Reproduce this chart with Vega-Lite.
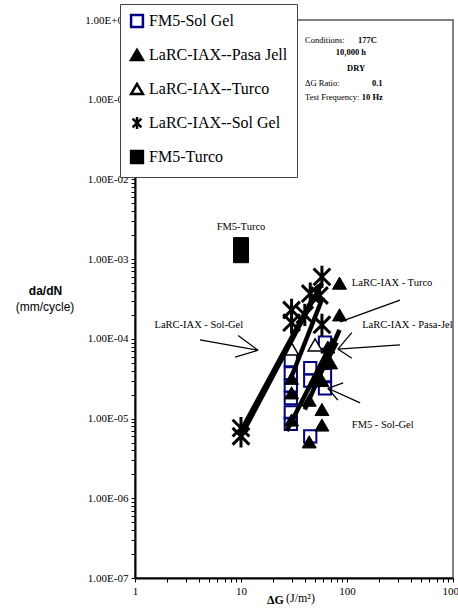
{
  "$schema": "https://vega.github.io/schema/vega-lite/v6.json",
  "width": 318,
  "height": 558,
  "autosize": "none",
  "padding": {"left": 135, "top": 20, "right": 5, "bottom": 32},
  "background": "white",
  "config": {
    "view": {"stroke": "#808080", "strokeWidth": 2},
    "font": "Liberation Serif"
  },
  "datasets": {
    "points": [
      {"series": "FM5-Sol Gel", "x": 29.5, "y": 5.4e-5},
      {"series": "FM5-Sol Gel", "x": 29.5, "y": 3.7e-5},
      {"series": "FM5-Sol Gel", "x": 29.5, "y": 2.6e-5},
      {"series": "FM5-Sol Gel", "x": 29.5, "y": 1.8e-5},
      {"series": "FM5-Sol Gel", "x": 29.5, "y": 1.2e-5},
      {"series": "FM5-Sol Gel", "x": 29.5, "y": 8.6e-6},
      {"series": "FM5-Sol Gel", "x": 45, "y": 4.3e-5},
      {"series": "FM5-Sol Gel", "x": 45, "y": 3.0e-5},
      {"series": "FM5-Sol Gel", "x": 45, "y": 6.0e-6},
      {"series": "FM5-Sol Gel", "x": 62, "y": 9.0e-5},
      {"series": "FM5-Sol Gel", "x": 62, "y": 3.5e-5},
      {"series": "FM5-Sol Gel", "x": 62, "y": 2.4e-5},
      {"series": "LaRC-IAX--Pasa Jell", "x": 30, "y": 3.2e-5},
      {"series": "LaRC-IAX--Pasa Jell", "x": 30, "y": 2.1e-5},
      {"series": "LaRC-IAX--Pasa Jell", "x": 30, "y": 9.6e-6},
      {"series": "LaRC-IAX--Pasa Jell", "x": 44, "y": 1.7e-5},
      {"series": "LaRC-IAX--Pasa Jell", "x": 58, "y": 1.3e-5},
      {"series": "LaRC-IAX--Pasa Jell", "x": 58, "y": 8.3e-6},
      {"series": "LaRC-IAX--Pasa Jell", "x": 44, "y": 5.1e-6},
      {"series": "LaRC-IAX--Pasa Jell", "x": 58, "y": 3.0e-5},
      {"series": "LaRC-IAX--Pasa Jell", "x": 66, "y": 7.9e-5},
      {"series": "LaRC-IAX--Pasa Jell", "x": 70, "y": 5.0e-5},
      {"series": "LaRC-IAX--Pasa Jell", "x": 85, "y": 5.0e-4},
      {"series": "LaRC-IAX--Pasa Jell", "x": 85, "y": 2.0e-4},
      {"series": "LaRC-IAX--Turco", "x": 30, "y": 7.5e-5},
      {"series": "LaRC-IAX--Turco", "x": 50, "y": 8.4e-5},
      {"series": "LaRC-IAX--Sol Gel", "x": 10, "y": 7.6e-6},
      {"series": "LaRC-IAX--Sol Gel", "x": 10, "y": 6.0e-6},
      {"series": "LaRC-IAX--Sol Gel", "x": 58, "y": 6.0e-4},
      {"series": "LaRC-IAX--Sol Gel", "x": 45, "y": 3.7e-4},
      {"series": "LaRC-IAX--Sol Gel", "x": 55, "y": 3.5e-4},
      {"series": "LaRC-IAX--Sol Gel", "x": 30, "y": 2.3e-4},
      {"series": "LaRC-IAX--Sol Gel", "x": 30, "y": 1.6e-4},
      {"series": "LaRC-IAX--Sol Gel", "x": 58, "y": 1.5e-4},
      {"series": "LaRC-IAX--Sol Gel", "x": 40, "y": 2.0e-4},
      {"series": "FM5-Turco", "x": 10, "y": 1.5e-3},
      {"series": "FM5-Turco", "x": 10, "y": 1.12e-3}
    ],
    "fits": [
      {"x": 10, "y": 6.0e-6, "x2": 58, "y2": 5.0e-4},
      {"x": 10, "y": 7.0e-6, "x2": 48, "y2": 3.3e-4},
      {"x": 29, "y": 3.0e-5, "x2": 59, "y2": 3.3e-4},
      {"x": 27, "y": 7.0e-6, "x2": 75, "y2": 1.0e-4},
      {"x": 40, "y": 1.3e-5, "x2": 85, "y2": 1.3e-4},
      {"x": 48, "y": 2.5e-5, "x2": 80, "y2": 9.0e-5}
    ],
    "arrows": [
      {"x": 4.1, "y": 9.7e-5, "x2": 14.5, "y2": 7.2e-5},
      {"x": 9.4, "y": 1.1e-4, "x2": 14.5, "y2": 7.2e-5},
      {"x": 8.8, "y": 5.9e-5, "x2": 14.5, "y2": 7.2e-5},
      {"x": 316, "y": 3.07e-4, "x2": 86, "y2": 1.63e-4},
      {"x": 316, "y": 8.4e-5, "x2": 82, "y2": 7.45e-5},
      {"x": 111, "y": 1.2e-4, "x2": 82, "y2": 7.45e-5},
      {"x": 111, "y": 5.7e-5, "x2": 82, "y2": 7.45e-5},
      {"x": 133, "y": 1.57e-5, "x2": 66, "y2": 2.4e-5},
      {"x": 92, "y": 2.8e-5, "x2": 66, "y2": 2.4e-5},
      {"x": 82, "y": 1.7e-5, "x2": 66, "y2": 2.4e-5}
    ],
    "notesCenter": [
      {"x": 10, "y": 2.5e-3, "text": "FM5-Turco"},
      {"x": 4.0, "y": 1.5e-4, "text": "LaRC-IAX - Sol-Gel"}
    ],
    "notesLeft": [
      {"x": 111, "y": 5.0e-4, "text": "LaRC-IAX - Turco"},
      {"x": 139, "y": 1.49e-4, "text": "LaRC-IAX - Pasa-Jel"},
      {"x": 111, "y": 8.3e-6, "text": "FM5 - Sol-Gel"}
    ],
    "condLabels": [
      {"x": 40.2, "y": 0.561, "text": "Conditions:"},
      {"x": 40.2, "y": 0.162, "text": "ΔG Ratio:"},
      {"x": 40.2, "y": 0.108, "text": "Test Frequency:"}
    ],
    "condValuesLeft": [
      {"x": 127, "y": 0.561, "text": "177C"},
      {"x": 172, "y": 0.162, "text": "0.1"},
      {"x": 138, "y": 0.108, "text": "10 Hz"}
    ],
    "condValuesCenter": [
      {"x": 109, "y": 0.397, "text": "10,000 h"},
      {"x": 122, "y": 0.25, "text": "DRY"}
    ],
    "yUnit": [{"x": 0.1416, "y": 2.5e-4, "text": "(mm/cycle)"}],
    "xUnit": [{"x": 26.6, "y": 5.6e-8, "text": "(J/m²)"}]
  },
  "encoding": {
    "x": {
      "field": "x",
      "type": "quantitative",
      "scale": {"type": "log", "domain": [1, 1000], "nice": false},
      "axis": {
        "title": "ΔG",
        "titleFont": "Liberation Serif",
        "titleFontWeight": "bold",
        "titleFontSize": 12,
        "titleX": 140,
        "titleY": 21,
        "titleAlign": "center",
        "titleBaseline": "middle",
        "values": [1, 2, 3, 4, 5, 6, 7, 8, 9, 10, 20, 30, 40, 50, 60, 70, 80, 90, 100, 200, 300, 400, 500, 600, 700, 800, 900, 1000],
        "labelExpr": "indexof([1, 10, 100, 1000], datum.value) >= 0 ? format(datum.value, 'd') : ''",
        "labelFont": "Liberation Serif",
        "labelFontSize": 11,
        "labelColor": "black",
        "labelPadding": 3,
        "labelOverlap": false,
        "labelFlush": false,
        "tickColor": "black",
        "tickSize": 4,
        "domainColor": "black",
        "domainWidth": 2,
        "grid": false
      }
    },
    "y": {
      "field": "y",
      "type": "quantitative",
      "scale": {"type": "log", "domain": [1e-7, 1], "nice": false},
      "axis": {
        "title": "da/dN",
        "titleFont": "Liberation Sans",
        "titleFontWeight": "bold",
        "titleFontSize": 12,
        "titleAngle": 0,
        "titleX": -90,
        "titleY": 270,
        "titleAlign": "center",
        "titleBaseline": "middle",
        "values": [1e-7, 2e-7, 3e-7, 4e-7, 5e-7, 6e-7, 7e-7, 8e-7, 9e-7,
                   1e-6, 2e-6, 3e-6, 4e-6, 5e-6, 6e-6, 7e-6, 8e-6, 9e-6,
                   1e-5, 2e-5, 3e-5, 4e-5, 5e-5, 6e-5, 7e-5, 8e-5, 9e-5,
                   1e-4, 2e-4, 3e-4, 4e-4, 5e-4, 6e-4, 7e-4, 8e-4, 9e-4,
                   1e-3, 2e-3, 3e-3, 4e-3, 5e-3, 6e-3, 7e-3, 8e-3, 9e-3,
                   1e-2, 2e-2, 3e-2, 4e-2, 5e-2, 6e-2, 7e-2, 8e-2, 9e-2,
                   1e-1, 2e-1, 3e-1, 4e-1, 5e-1, 6e-1, 7e-1, 8e-1, 9e-1, 1],
        "labelExpr": "indexof([1e-7, 1e-6, 1e-5, 1e-4, 1e-3, 1e-2, 1e-1, 1], datum.value) >= 0 ? '1.00E' + (datum.value < 1 ? '-' : '+') + '0' + abs(round(log(datum.value) / LN10)) : ''",
        "labelFont": "Liberation Serif",
        "labelFontSize": 11,
        "labelColor": "black",
        "labelPadding": 3,
        "labelOverlap": false,
        "labelFlush": false,
        "tickColor": "black",
        "tickSize": 4,
        "domainColor": "black",
        "domainWidth": 2,
        "grid": false
      }
    },
    "shape": {
      "field": "series",
      "type": "nominal",
      "title": null,
      "scale": {
        "domain": ["FM5-Sol Gel", "LaRC-IAX--Pasa Jell", "LaRC-IAX--Turco", "LaRC-IAX--Sol Gel", "FM5-Turco"],
        "range": ["square", "triangle-up", "triangle-up", "M-0.75,-0.75L0.75,0.75M0.75,-0.75L-0.75,0.75M0,-1L0,1", "square"]
      },
      "legend": {
        "orient": "none", "legendX": -15, "legendY": -16, "fillColor": "white", "strokeColor": "#444444",
        "padding": 9, "rowPadding": 12, "labelFont": "Liberation Serif", "labelFontSize": 16, "labelColor": "black",
        "labelOffset": 4, "labelLimit": 300, "symbolSize": 140, "symbolStrokeWidth": 2.5, "zindex": 1
      }
    },
    "stroke": {
      "field": "series",
      "type": "nominal",
      "title": null,
      "scale": {
        "domain": ["FM5-Sol Gel", "LaRC-IAX--Pasa Jell", "LaRC-IAX--Turco", "LaRC-IAX--Sol Gel", "FM5-Turco"],
        "range": ["#000080", "black", "black", "black", "black"]
      },
      "legend": {
        "orient": "none", "legendX": -15, "legendY": -16, "fillColor": "white", "strokeColor": "#444444",
        "padding": 9, "rowPadding": 12, "labelFont": "Liberation Serif", "labelFontSize": 16, "labelColor": "black",
        "labelOffset": 4, "labelLimit": 300, "symbolSize": 140, "symbolStrokeWidth": 2.5, "zindex": 1
      }
    },
    "fill": {
      "field": "series",
      "type": "nominal",
      "title": null,
      "scale": {
        "domain": ["FM5-Sol Gel", "LaRC-IAX--Pasa Jell", "LaRC-IAX--Turco", "LaRC-IAX--Sol Gel", "FM5-Turco"],
        "range": ["transparent", "black", "white", "transparent", "black"]
      },
      "legend": {
        "orient": "none", "legendX": -15, "legendY": -16, "fillColor": "white", "strokeColor": "#444444",
        "padding": 9, "rowPadding": 12, "labelFont": "Liberation Serif", "labelFontSize": 16, "labelColor": "black",
        "labelOffset": 4, "labelLimit": 300, "symbolSize": 140, "symbolStrokeWidth": 2.5, "zindex": 1
      }
    }
  },
  "layer": [
    {
      "data": {"name": "points"},
      "transform": [{"filter": "datum.series === 'FM5-Sol Gel'"}],
      "mark": {"type": "point", "opacity": 1, "size": 150, "strokeWidth": 2}
    },
    {
      "data": {"name": "points"},
      "transform": [{"filter": "datum.series === 'LaRC-IAX--Pasa Jell'"}],
      "mark": {"type": "point", "opacity": 1, "size": 196, "strokeWidth": 1}
    },
    {
      "data": {"name": "points"},
      "transform": [{"filter": "datum.series === 'LaRC-IAX--Turco'"}],
      "mark": {"type": "point", "opacity": 1, "size": 196, "strokeWidth": 1.5}
    },
    {
      "data": {"name": "points"},
      "transform": [{"filter": "datum.series === 'LaRC-IAX--Sol Gel'"}],
      "mark": {"type": "point", "opacity": 1, "size": 500, "strokeWidth": 3}
    },
    {
      "data": {"name": "points"},
      "transform": [{"filter": "datum.series === 'FM5-Turco'"}],
      "mark": {"type": "point", "opacity": 1, "size": 225, "strokeWidth": 1}
    },
    {
      "data": {"name": "fits"},
      "mark": {"type": "rule", "strokeWidth": 4.5, "color": "black"},
      "encoding": {
        "x2": {"field": "x2"},
        "y2": {"field": "y2"},
        "shape": null, "stroke": null, "fill": null
      }
    },
    {
      "data": {"name": "arrows"},
      "mark": {"type": "rule", "strokeWidth": 1.3, "color": "black"},
      "encoding": {
        "x2": {"field": "x2"},
        "y2": {"field": "y2"},
        "shape": null, "stroke": null, "fill": null
      }
    },
    {
      "data": {"name": "notesCenter"},
      "mark": {"type": "text", "font": "Liberation Serif", "fontSize": 10.5, "align": "center", "baseline": "middle", "color": "black"},
      "encoding": {"text": {"field": "text"}, "shape": null, "stroke": null, "fill": null}
    },
    {
      "data": {"name": "notesLeft"},
      "mark": {"type": "text", "font": "Liberation Serif", "fontSize": 10.5, "align": "left", "baseline": "middle", "color": "black"},
      "encoding": {"text": {"field": "text"}, "shape": null, "stroke": null, "fill": null}
    },
    {
      "data": {"name": "condLabels"},
      "mark": {"type": "text", "font": "Liberation Serif", "fontSize": 8.5, "align": "left", "baseline": "middle", "color": "black"},
      "encoding": {"text": {"field": "text"}, "shape": null, "stroke": null, "fill": null}
    },
    {
      "data": {"name": "condValuesLeft"},
      "mark": {"type": "text", "font": "Liberation Serif", "fontSize": 8.5, "fontWeight": "bold", "align": "left", "baseline": "middle", "color": "black"},
      "encoding": {"text": {"field": "text"}, "shape": null, "stroke": null, "fill": null}
    },
    {
      "data": {"name": "condValuesCenter"},
      "mark": {"type": "text", "font": "Liberation Serif", "fontSize": 8.5, "fontWeight": "bold", "align": "center", "baseline": "middle", "color": "black"},
      "encoding": {"text": {"field": "text"}, "shape": null, "stroke": null, "fill": null}
    },
    {
      "data": {"name": "yUnit"},
      "mark": {"type": "text", "font": "Liberation Sans", "fontSize": 12, "align": "center", "baseline": "middle", "color": "black"},
      "encoding": {"text": {"field": "text"}, "shape": null, "stroke": null, "fill": null}
    },
    {
      "data": {"name": "xUnit"},
      "mark": {"type": "text", "font": "Liberation Serif", "fontSize": 12, "align": "left", "baseline": "middle", "color": "black"},
      "encoding": {"text": {"field": "text"}, "shape": null, "stroke": null, "fill": null}
    }
  ]
}
